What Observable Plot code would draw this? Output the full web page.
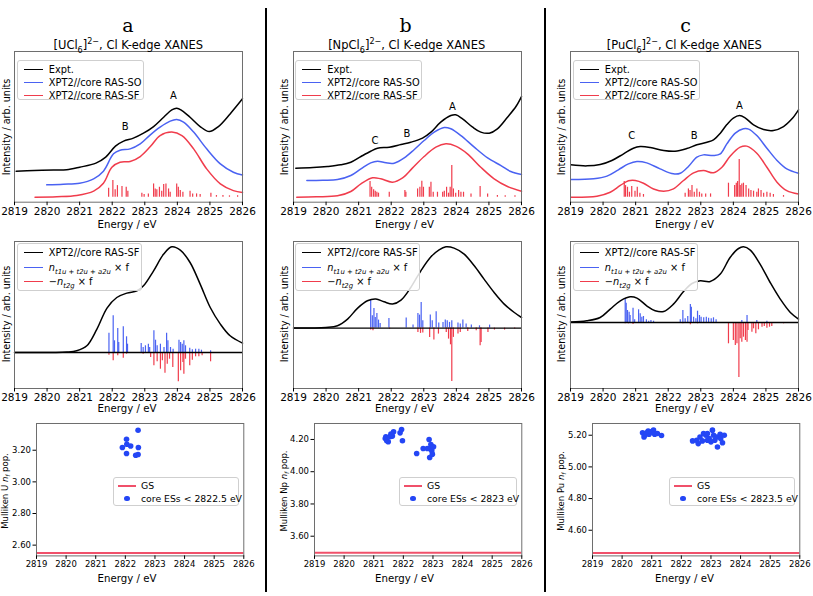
<!DOCTYPE html>
<html><head><meta charset="utf-8">
<script src="https://cdn.jsdelivr.net/npm/d3@7"></script>
<script src="https://cdn.jsdelivr.net/npm/@observablehq/plot@0.6"></script>
<style>
body{margin:0;background:#fff;}
#wrap{position:relative;width:813px;height:596px;overflow:hidden;font-family:"DejaVu Sans",sans-serif;color:#000;background:#fff;}
.abs{position:absolute;white-space:nowrap;line-height:1;}
.ctr{transform:translate(-50%,-50%);}
.rot{transform:translate(-50%,-50%) rotate(-90deg);}
.vmid{transform:translateY(-50%);}
.leg{position:absolute;border:1px solid #cfcfcf;border-radius:3px;background:rgba(255,255,255,0.85);box-sizing:border-box;}
sub,sup{font-size:0.7em;line-height:0;}
.letter{font-family:"DejaVu Serif","Liberation Serif",serif;font-size:19px;}
.divider{position:absolute;width:2px;background:#000;}
</style></head>
<body><div id="wrap"></div>
<script>
// ---------- shared ticks ----------
const energyTicks = [2819, 2820, 2821, 2822, 2823, 2824, 2825, 2826];

// ---------- column a : [UCl6]2- ----------
const uExpt = [[2819.05,20.6],[2819.6,21.0],[2820.2,21.3],[2820.6,21.5],[2821.0,23.2],[2821.5,25.9],[2821.8,29.9],[2822.1,37.2],[2822.35,40.5],[2822.65,42.5],[2822.96,45.8],[2823.27,50.2],[2823.58,56.4],[2823.83,61.3],[2823.98,62.4],[2824.14,60.8],[2824.39,56.4],[2824.7,50.2],[2824.98,46.9],[2825.26,50.2],[2825.62,58.6],[2826,68.6]];
const uSO = [[2819.99,11.5],[2820.5,11.9],[2821.0,12.6],[2821.43,15.5],[2821.73,20.6],[2822.04,32.1],[2822.24,34.5],[2822.55,35.4],[2822.86,38.7],[2823.17,44.7],[2823.47,49.8],[2823.78,53.8],[2823.98,54.9],[2824.19,53.1],[2824.5,46.5],[2824.9,35.4],[2825.32,25.4],[2825.72,19.9],[2826,18.1]];
const uSF = [[2819.63,3.3],[2820.3,3.6],[2820.91,4.4],[2821.43,7.3],[2821.73,12.6],[2821.99,23.2],[2822.24,26.5],[2822.55,27.0],[2822.86,30.3],[2823.17,36.9],[2823.47,44.2],[2823.83,46.5],[2824.14,44.2],[2824.5,35.4],[2824.9,22.1],[2825.32,12.2],[2825.72,7.7],[2826,6.4]];
const uSticks = [[2821.89,6.0],[2822.02,11.1],[2822.09,4.9],[2822.16,7.7],[2822.3,7.1],[2822.43,6.6],[2822.48,4.0],[2822.91,2.7],[2822.98,1.8],[2823.11,2.2],[2823.27,8.8],[2823.32,5.5],[2823.37,4.9],[2823.45,6.6],[2823.52,4.0],[2823.58,8.4],[2823.65,8.8],[2823.73,5.5],[2823.78,3.3],[2823.98,8.8],[2824.03,6.6],[2824.09,4.4],[2824.17,3.3],[2824.39,4.0],[2824.47,2.2],[2824.59,2.2],[2824.7,1.8],[2825.03,2.7],[2825.2,1.1],[2825.4,1.1],[2825.6,0.9],[2825.85,0.9]];
const uPeaks = [["A",2823.88,70.4],["B",2822.4,50.2]];
const uSFmid = [[2819,0],[2820.61,0.4],[2820.91,1.7],[2821.22,6.7],[2821.53,23.4],[2821.84,44.4],[2822.14,55.0],[2822.45,59.4],[2822.76,61.7],[2822.96,66.7],[2823.27,81.7],[2823.58,98.4],[2823.83,105.7],[2824.09,102.4],[2824.39,90],[2824.7,68.4],[2825.01,45.0],[2825.32,28.4],[2825.62,16.7],[2826,9.4]];
const uLig = [[2821.9,19.3],[2822.03,36.7],[2822.07,11.7],[2822.17,24],[2822.2,10],[2822.34,25.7],[2822.44,15.7],[2822.47,8.3],[2822.89,9],[2822.95,5],[2823.02,6.7],[2823.11,8.3],[2823.15,5],[2823.28,21.7],[2823.33,12.3],[2823.38,6.7],[2823.48,8.3],[2823.59,5],[2823.67,19.3],[2823.71,11.7],[2823.79,5],[2823.87,3.3],[2824.05,12.3],[2824.1,10],[2824.15,8.3],[2824.2,11.7],[2824.25,6.7],[2824.38,4.3],[2824.46,2.7],[2824.56,3.3],[2824.66,3.3],[2824.74,2.3],[2825.02,1.7]];
const uT2g = [[2821.9,-2.7],[2822.03,-8.3],[2822.17,-3.3],[2822.34,-5.7],[2822.44,-1.7],[2822.95,-1.7],[2823.18,-5],[2823.28,-13.3],[2823.38,-9.3],[2823.48,-16.7],[2823.54,-8.3],[2823.62,-20.7],[2823.69,-11.7],[2823.76,-6.7],[2823.86,-15],[2824.03,-29.3],[2824.1,-18.3],[2824.17,-10],[2824.2,-21.7],[2824.25,-6.7],[2824.38,-13.3],[2824.46,-7.7],[2824.56,-4.3],[2824.66,-4.3],[2824.76,-3.3],[2825.02,-9.3],[2825.28,-1],[2825.53,-1],[2825.84,-1]];
const uPop = [[2821.9,3.217],[2822.04,3.269],[2822.05,3.238],[2822.04,3.179],[2822.18,3.227],[2822.35,3.168],[2822.43,3.173],[2822.44,3.217],[2822.43,3.326]];
const uGS = [2.551];
const uPopTicks = [2.6, 2.8, 3.0, 3.2];

// ---------- column b : [NpCl6]2- ----------
const npExpt = [[2819.07,22.6],[2819.6,23.0],[2820.04,23.7],[2820.45,24.8],[2820.76,26.5],[2821.07,30.3],[2821.37,33.8],[2821.58,35.8],[2821.94,36.5],[2822.3,38.3],[2822.6,39.8],[2822.96,42.5],[2823.22,46.5],[2823.52,53.1],[2823.83,57.5],[2823.98,58.0],[2824.19,55.3],[2824.5,49.8],[2824.75,46.5],[2825.01,45.8],[2825.26,48.7],[2825.57,56.4],[2825.83,63.5],[2826,70.1]];
const npSO = [[2819.41,14.4],[2819.9,14.6],[2820.35,15.0],[2820.76,17.7],[2821.07,22.1],[2821.37,26.1],[2821.58,27.2],[2821.84,26.1],[2822.09,25.9],[2822.4,29.4],[2822.71,35.0],[2823.01,40.9],[2823.32,46.5],[2823.63,49.6],[2823.83,48.7],[2824.14,44.2],[2824.55,36.5],[2824.96,29.4],[2825.37,24.3],[2825.67,20.4],[2826,18.4]];
const npSF = [[2819.1,3.3],[2819.7,3.6],[2820.35,4.2],[2820.76,7.1],[2821.07,12.2],[2821.43,16.2],[2821.68,15.5],[2822.04,13.3],[2822.35,16.2],[2822.65,22.6],[2823.01,30.3],[2823.37,36.5],[2823.68,38.7],[2823.98,37.2],[2824.34,32.1],[2824.75,23.2],[2825.16,15.5],[2825.57,10.4],[2826,7.3]];
const npSticks = [[2821.35,10.4],[2821.4,6.6],[2821.46,4.9],[2821.51,4.0],[2821.56,3.3],[2821.61,2.7],[2821.94,3.3],[2822.42,4.4],[2822.45,3.3],[2822.81,5.5],[2822.88,6.6],[2822.94,10.6],[2822.99,6.6],[2823.17,6.6],[2823.22,10.0],[2823.29,3.3],[2823.42,3.3],[2823.58,3.3],[2823.63,4.0],[2823.7,6.6],[2823.76,2.7],[2823.81,6.6],[2823.86,21.0],[2823.91,5.5],[2823.98,2.7],[2824.07,4.4],[2824.14,3.3],[2824.22,3.3],[2824.45,2.2],[2824.73,7.1],[2824.96,2.2],[2825.26,1.1],[2825.5,0.9],[2825.8,0.9]];
const npPeaks = [["A",2823.88,63.1],["B",2822.48,45.4],["C",2821.5,40.9]];
const npSFmid = [[2819,0],[2819.99,0.6],[2820.35,2.3],[2820.66,9],[2820.97,20],[2821.27,27.3],[2821.53,29],[2821.78,26.3],[2822.04,24],[2822.3,28],[2822.6,40.6],[2822.91,57.3],[2823.22,71.3],[2823.47,78.3],[2823.68,81.3],[2823.93,80],[2824.24,74],[2824.55,62.3],[2824.85,49],[2825.16,35.6],[2825.47,24],[2825.78,15.6],[2826,10.6]];
const npLig = [[2821.37,28],[2821.42,12.3],[2821.47,19.7],[2821.51,10.7],[2821.56,14.7],[2821.61,8],[2821.66,4.7],[2821.93,9.7],[2822.46,10],[2822.67,3],[2822.82,14.7],[2822.87,13],[2822.92,25.7],[2822.97,7.3],[2823.2,13],[2823.26,7.3],[2823.38,16.3],[2823.46,5],[2823.59,5.7],[2823.66,8],[2823.72,7.3],[2823.79,5.7],[2823.86,7.3],[2824.05,5],[2824.12,4],[2824.2,8],[2824.3,4],[2824.46,3],[2824.71,2.3],[2825.02,3]];
const npT2g = [[2821.37,-2],[2821.44,-2.7],[2821.95,-1],[2822.82,-4.3],[2822.9,-5.3],[2822.97,-5],[2823.18,-9.3],[2823.31,-12],[2823.45,-6],[2823.69,-4.3],[2823.76,-11],[2823.82,-16.7],[2823.86,-53.3],[2823.91,-9.3],[2824.05,-6],[2824.12,-4.3],[2824.35,-3.3],[2824.61,-2.7],[2824.73,-17.7],[2824.76,-14.3],[2824.97,-4.3],[2825.17,-2],[2825.48,-2],[2825.79,-1]];
const npPop = [[2821.39,4.206],[2821.44,4.192],[2821.49,4.186],[2821.41,4.217],[2821.55,4.217],[2821.63,4.221],[2821.67,4.248],[2821.58,4.233],[2821.89,4.241],[2821.94,4.262],[2821.97,4.192],[2822.45,4.113],[2822.67,4.144],[2822.87,4.2],[2822.89,4.144],[2822.93,4.169],[2822.96,4.13],[2822.89,4.088],[2822.98,4.109],[2822.81,4.144],[2823.02,4.155]];
const npGS = [3.497];
const npPopTicks = [3.6, 3.8, 4.0, 4.2];

// ---------- column c : [PuCl6]2- ----------
const puExpt = [[2819.01,24.8],[2819.5,24.1],[2819.91,25.0],[2820.27,27.7],[2820.63,32.1],[2820.93,35.8],[2821.14,36.9],[2821.45,36.3],[2821.86,34.3],[2822.21,33.8],[2822.57,35.6],[2822.88,38.1],[2823.19,39.8],[2823.39,41.4],[2823.6,45.8],[2823.8,51.5],[2824.0,55.8],[2824.19,57.5],[2824.36,56.0],[2824.62,51.3],[2824.93,48.2],[2825.23,47.6],[2825.54,50.2],[2825.8,55.3],[2826,61.3]];
const puSO = [[2819.01,15.0],[2819.71,15.5],[2820.12,17.3],[2820.47,21.5],[2820.78,25.4],[2821.04,27.0],[2821.34,26.1],[2821.75,22.1],[2822.16,18.8],[2822.37,19.2],[2822.62,23.7],[2822.88,29.9],[2823.08,31.4],[2823.39,31.0],[2823.6,32.1],[2823.8,38.7],[2824.06,45.8],[2824.31,48.7],[2824.47,48.5],[2824.72,44.2],[2825.03,35.8],[2825.34,27.7],[2825.64,22.1],[2826,19.2]];
const puSF = [[2819.01,3.3],[2819.81,4.0],[2820.22,6.6],[2820.53,11.1],[2820.78,14.2],[2820.99,14.4],[2821.24,12.6],[2821.55,8.8],[2821.86,7.3],[2822.16,8.8],[2822.47,14.4],[2822.78,19.5],[2823.08,21.0],[2823.39,19.5],[2823.65,23.2],[2823.9,30.5],[2824.21,36.5],[2824.41,37.2],[2824.72,32.5],[2825.03,23.2],[2825.34,13.3],[2825.64,7.7],[2826,5.5]];
const puSticks = [[2820.65,10.4],[2820.69,7.7],[2820.75,6.6],[2820.81,3.3],[2820.88,7.1],[2820.98,4.0],[2821.05,6.6],[2821.13,2.7],[2821.24,1.8],[2822.52,2.7],[2822.62,5.5],[2822.67,4.4],[2822.73,7.7],[2822.8,3.3],[2822.88,5.5],[2822.96,3.3],[2823.03,2.2],[2823.15,2.2],[2823.3,2.2],[2823.85,9.3],[2824.04,7.7],[2824.09,9.3],[2824.13,10.4],[2824.18,25.0],[2824.21,7.7],[2824.26,8.8],[2824.31,9.3],[2824.39,7.7],[2824.47,5.5],[2824.54,4.4],[2824.62,4.0],[2824.72,3.3],[2824.77,5.5],[2824.85,4.4],[2824.93,2.7],[2825.03,3.3],[2825.13,2.7],[2825.23,1.8],[2825.54,1.1]];
const puPeaks = [["A",2824.19,64.2],["B",2822.8,44.2],["C",2820.88,44.2]];
const puSFmid = [[2819,0.5],[2819.5,1.7],[2819.91,5],[2820.22,13.4],[2820.53,21.7],[2820.83,25.7],[2821.04,24.4],[2821.34,16.7],[2821.6,11.7],[2821.86,11],[2822.16,18.4],[2822.47,31],[2822.73,39],[2822.98,41.7],[2823.29,41],[2823.6,48.4],[2823.9,65],[2824.16,74],[2824.31,75.7],[2824.52,72.4],[2824.82,58.4],[2825.13,40],[2825.44,23.4],[2825.75,10],[2826,3.4]];
const puLig = [[2820.68,23.7],[2820.71,19.3],[2820.75,12],[2820.8,10.3],[2820.83,7],[2820.92,14.3],[2820.97,2.7],[2821.09,12.7],[2821.14,8.7],[2821.19,5.3],[2821.24,6],[2821.33,2.7],[2821.4,1.3],[2821.47,2],[2821.55,1.3],[2822.37,2.7],[2822.45,12],[2822.52,3.7],[2822.6,6],[2822.68,18],[2822.71,15.3],[2822.78,5.3],[2822.85,3.7],[2822.9,11.3],[2822.96,7],[2823.01,5.3],[2823.09,4.7],[2823.17,5.3],[2823.24,4.3],[2823.32,3.7],[2823.39,4.7],[2823.47,2.7],[2824.26,2],[2824.42,7],[2824.72,2],[2825.03,1.3]];
const puT2g = [[2820.68,-1.3],[2820.78,-1.3],[2820.92,-2],[2822.45,-1.3],[2822.68,-2.3],[2822.9,-1.3],[2823.85,-21.3],[2824.0,-18],[2824.06,-23],[2824.11,-21.3],[2824.17,-55],[2824.21,-16.3],[2824.26,-19.7],[2824.31,-14.7],[2824.37,-18],[2824.42,-19.7],[2824.45,-8],[2824.57,-9.7],[2824.62,-6.3],[2824.69,-11.3],[2824.77,-7.3],[2824.88,-4.7],[2824.95,-4],[2825.03,-5.7],[2825.11,-4.7],[2825.18,-4],[2825.54,-1.3]];
const puPop = [[2820.69,5.215],[2820.77,5.2],[2820.83,5.215],[2820.91,5.206],[2820.97,5.221],[2821.06,5.232],[2821.1,5.206],[2821.19,5.211],[2821.33,5.198],[2820.74,5.189],[2820.88,5.227],[2822.38,5.164],[2822.52,5.168],[2822.57,5.147],[2822.63,5.189],[2822.75,5.211],[2822.83,5.2],[2822.88,5.168],[2822.94,5.179],[2823.0,5.158],[2823.05,5.232],[2823.09,5.2],[2823.13,5.168],[2823.2,5.189],[2823.22,5.126],[2823.31,5.206],[2823.39,5.152],[2823.45,5.2],[2823.33,5.179],[2822.88,5.211],[2822.71,5.164]];
const puGS = [4.457];
const puPopTicks = [4.6, 4.8, 5.0, 5.2];

// ---------- styling ----------
const BLACK = "#000000", BLUE = "#4a62f2", RED = "#f03c4c", DOT = "#2446f5", GSRED = "#f0506a", FRAME = "#6e6e6e";
const wrap = document.getElementById("wrap");
const X = d => d[0], Y = d => d[1];

function makePanel(o) {
  const W = o.fw + o.mL + o.mR, H = o.fh + o.mT + o.mB;
  const marks = [
    ...o.marks,
    Plot.frame({stroke: FRAME, strokeWidth: 1}),
    Plot.axisX({ticks: energyTicks, tickFormat: d => String(d), tickSize: 3.5, tickPadding: 2, label: null}),
    o.yTicks ? Plot.axisY({ticks: o.yTicks, tickFormat: d => d.toFixed(2), tickSize: 3.5, tickPadding: 2, label: null}) : null
  ].filter(Boolean);
  const svg = Plot.plot({
    width: W, height: H,
    marginLeft: o.mL, marginRight: o.mR, marginTop: o.mT, marginBottom: o.mB,
    x: {domain: [2819, 2826]},
    y: {domain: o.yDomain, axis: o.yTicks ? undefined : null},
    style: {fontFamily: "DejaVu Sans", fontSize: o.fs + "px", background: "transparent", color: "#000", overflow: "visible"},
    marks
  });
  svg.style.position = "absolute";
  svg.style.left = (o.fl - o.mL) + "px";
  svg.style.top = (o.ft - o.mT) + "px";
  svg.style.maxWidth = "none";
  wrap.appendChild(svg);
}

function addText(html, x, y, cls, css) {
  const d = document.createElement("div");
  d.className = "abs " + cls;
  d.style.left = x + "px"; d.style.top = y + "px";
  d.innerHTML = html;
  if (css) Object.assign(d.style, css);
  wrap.appendChild(d);
  return d;
}

function addLegend(box, rows, sw, tx, fs) {
  const b = document.createElement("div");
  b.className = "leg";
  Object.assign(b.style, {left: box.left + "px", top: box.top + "px", width: box.w + "px", height: box.h + "px"});
  rows.forEach(r => {
    if (r.kind === "line") {
      const s = document.createElement("div");
      Object.assign(s.style, {position: "absolute", left: sw[0] + "px", width: (sw[1] - sw[0]) + "px", top: (r.dy - 0.75) + "px", height: "0", borderTop: (r.lw || 1.5) + "px solid " + r.color});
      b.appendChild(s);
    } else {
      const s = document.createElement("div");
      Object.assign(s.style, {position: "absolute", left: (sw[0] + sw[1]) / 2 - 2.8 + "px", top: (r.dy - 2.8) + "px", width: "5.6px", height: "5.6px", borderRadius: "50%", background: r.color});
      b.appendChild(s);
    }
    const t = document.createElement("div");
    t.className = "abs vmid";
    Object.assign(t.style, {left: tx + "px", top: r.dy + "px", fontSize: fs + "px"});
    t.innerHTML = r.html;
    b.appendChild(t);
  });
  wrap.appendChild(b);
}

// ---------- column definitions ----------
const cols = [
  {letter: "a", title: "[UCl<sub>6</sub>]<sup>2\u2212</sup>, Cl K-edge XANES", el: "U", thr: "2822.5",
   fl: 14.3, bfl: 35.7, cx: 127, ylx: 6.7, bylx: 5.3,
   expt: uExpt, so: uSO, sf: uSF, sticks: uSticks, peaks: uPeaks,
   mid: uSFmid, lig: uLig, t2g: uT2g, midDom: [-36, 111],
   pop: uPop, gs: uGS, popTicks: uPopTicks, popDom: [2.532, 3.369]},
  {letter: "b", title: "[NpCl<sub>6</sub>]<sup>2\u2212</sup>, Cl K-edge XANES", el: "Np", thr: "2823",
   fl: 292.7, bfl: 313.7, cx: 404.5, ylx: 285, bylx: 283.5,
   expt: npExpt, so: npSO, sf: npSF, sticks: npSticks, peaks: npPeaks,
   mid: npSFmid, lig: npLig, t2g: npT2g, midDom: [-60.4, 86.6],
   pop: npPop, gs: npGS, popTicks: npPopTicks, popDom: [3.478, 4.299]},
  {letter: "c", title: "[PuCl<sub>6</sub>]<sup>2\u2212</sup>, Cl K-edge XANES", el: "Pu", thr: "2823.5",
   fl: 570.3, bfl: 591.7, cx: 684.5, ylx: 562, bylx: 561,
   expt: puExpt, so: puSO, sf: puSF, sticks: puSticks, peaks: puPeaks,
   mid: puSFmid, lig: puLig, t2g: puT2g, midDom: [-66, 81],
   pop: puPop, gs: puGS, popTicks: puPopTicks, popDom: [4.438, 5.274]}
];

const STICK_BASE = 3.3;

cols.forEach(c => {
  // top panel
  makePanel({fl: c.fl, ft: 51, fw: 228, fh: 150.7, mL: 2, mR: 2, mT: 2, mB: 22, fs: 10.5, yDomain: [0, 100],
    marks: [
      Plot.ruleX(c.sticks, {x: X, y1: STICK_BASE, y2: d => STICK_BASE + d[1], stroke: RED, strokeWidth: 1.2}),
      Plot.line(c.sf, {x: X, y: Y, stroke: RED, strokeWidth: 1.5, curve: "catmull-rom"}),
      Plot.line(c.so, {x: X, y: Y, stroke: BLUE, strokeWidth: 1.5, curve: "catmull-rom"}),
      Plot.line(c.expt, {x: X, y: Y, stroke: BLACK, strokeWidth: 1.5, curve: "catmull-rom"}),
      Plot.text(c.peaks, {x: d => d[1], y: d => d[2], text: d => d[0], fontSize: 10})
    ]});
  // middle panel
  makePanel({fl: c.fl, ft: 240.7, fw: 228, fh: 147, mL: 2, mR: 2, mT: 2, mB: 22, fs: 10.5, yDomain: c.midDom,
    marks: [
      Plot.ruleX(c.lig, {x: X, y1: 0, y2: Y, stroke: BLUE, strokeWidth: 1.2}),
      Plot.ruleX(c.t2g, {x: X, y1: 0, y2: Y, stroke: RED, strokeWidth: 1.2}),
      Plot.ruleY([0], {stroke: BLACK, strokeWidth: 1.4}),
      Plot.line(c.mid, {x: X, y: Y, stroke: BLACK, strokeWidth: 1.5, curve: "catmull-rom"})
    ]});
  // bottom panel
  makePanel({fl: c.bfl, ft: 423.3, fw: 207.3, fh: 132.4, mL: 32, mR: 2, mT: 2, mB: 20, fs: 8.5, yDomain: c.popDom, yTicks: c.popTicks,
    marks: [
      Plot.ruleY(c.gs, {stroke: GSRED, strokeWidth: 2}),
      Plot.dot(c.pop, {x: X, y: Y, r: 2.8, fill: DOT, stroke: "none"})
    ]});

  // texts
  addText(c.letter, c.cx + 1, 25, "ctr letter");
  addText(c.title, c.fl + 114, 46, "ctr", {fontSize: "11.5px"});
  addText("Energy / eV", c.cx, 225, "ctr", {fontSize: "10.2px"});
  addText("Energy / eV", c.cx, 409, "ctr", {fontSize: "10.2px"});
  addText("Energy / eV", c.cx, 579, "ctr", {fontSize: "10.2px"});
  addText("Intensity / arb. units", c.ylx, 126.5, "rot", {fontSize: "9.6px"});
  addText("Intensity / arb. units", c.ylx, 314, "rot", {fontSize: "9.6px"});
  addText("Mulliken " + c.el + " <i>n</i><sub><i>f</i></sub> pop.", c.bylx, 491, "rot", {fontSize: "8.5px"});

  // legends
  addLegend({left: c.fl + 2.5, top: 60, w: 127, h: 40}, [
    {kind: "line", color: BLACK, html: "Expt.", dy: 9},
    {kind: "line", color: BLUE, html: "XPT2//core RAS-SO", dy: 22},
    {kind: "line", color: RED, html: "XPT2//core RAS-SF", dy: 35}
  ], [6, 25], 31, 9.8);
  addLegend({left: c.fl + 2.5, top: 242.5, w: 125, h: 48}, [
    {kind: "line", color: BLACK, html: "XPT2//core RAS-SF", dy: 9.5},
    {kind: "line", color: BLUE, html: "<i>n</i><sub><i>t1u + t2u + a2u</i></sub> \u00d7 f", dy: 24},
    {kind: "line", color: RED, html: "\u2212<i>n</i><sub><i>t2g</i></sub> \u00d7 f", dy: 38.5}
  ], [6, 25], 31, 9.8);
  const bw = c.thr.length > 4 ? 126 : 118;
  addLegend({left: c.bfl + 207.3 - 4 - bw, top: 477, w: bw, h: 29}, [
    {kind: "line", color: GSRED, html: "GS", dy: 7.5, lw: 2},
    {kind: "dot", color: DOT, html: "core ESs &lt; " + c.thr + " eV", dy: 20.5}
  ], [4, 22], 27, 9.3);
});

// column dividers
[265.5, 544.5].forEach(x => {
  const d = document.createElement("div");
  d.className = "divider";
  Object.assign(d.style, {left: (x - 1) + "px", top: "8px", height: "584px"});
  wrap.appendChild(d);
});
</script>
</body></html>
